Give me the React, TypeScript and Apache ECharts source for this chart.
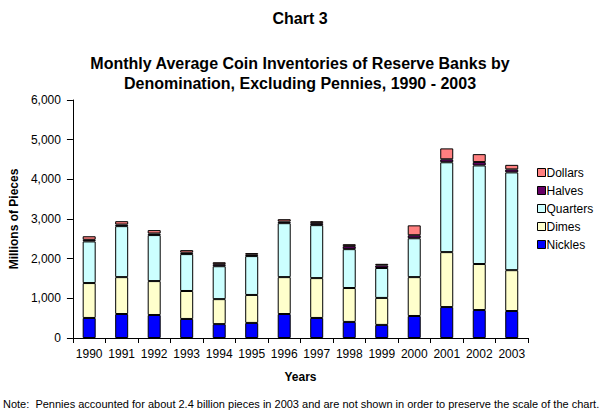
import React, { useEffect, useRef } from "react";
import * as echarts from "echarts";

const years = ["1990","1991","1992","1993","1994","1995","1996","1997","1998","1999","2000","2001","2002","2003"];
const nickles = [505, 605, 580, 480, 350, 380, 605, 505, 405, 330, 555, 780, 705, 680];
const dimes = [880, 930, 855, 705, 630, 705, 930, 1005, 855, 680, 980, 1385, 1160, 1030];
const quarters = [1050, 1285, 1160, 930, 830, 980, 1360, 1335, 980, 755, 980, 2265, 2485, 2465];
const halves = [40, 40, 40, 35, 50, 35, 40, 50, 75, 65, 75, 75, 85, 75];
const dollars = [90, 85, 85, 65, 50, 40, 60, 50, 50, 40, 250, 275, 200, 115];

const FONT = "'Liberation Sans', Arial, sans-serif";

export default function App() {
  const ref = useRef<HTMLDivElement>(null);
  useEffect(() => {
    if (!ref.current) return;
    const chart = echarts.init(ref.current, null, { renderer: "svg" });
    const mk = (name: string, data: number[], color: string) => ({
      name,
      type: "bar",
      stack: "coins",
      data,
      barWidth: 13,
      itemStyle: { color, borderColor: "#000", borderWidth: 1 },
    });
    chart.setOption({
      animation: false,
      backgroundColor: "#fff",
      textStyle: { fontFamily: FONT },
      title: [
        {
          text: "Chart 3",
          left: "center",
          top: 5,
          textStyle: { fontFamily: FONT, fontSize: 16, fontWeight: "bold", color: "#000" },
        },
        {
          text: "Monthly Average Coin Inventories of Reserve Banks by\nDenomination, Excluding Pennies, 1990 - 2003",
          left: "center",
          top: 48,
          textStyle: { fontFamily: FONT, fontSize: 16, fontWeight: "bold", color: "#000", lineHeight: 20 },
        },
      ],
      legend: {
        orient: "vertical",
        left: 532,
        top: 161,
        itemWidth: 8,
        itemHeight: 8,
        itemGap: 5,
        icon: "rect",
        data: ["Dollars", "Halves", "Quarters", "Dimes", "Nickles"],
        textStyle: { fontFamily: FONT, fontSize: 12, color: "#000", lineHeight: 13, padding: [0, 0, 0, -4] },
        itemStyle: { borderColor: "#000", borderWidth: 1 },
      },
      grid: { left: 66, right: 72, top: 100, height: 238 },
      xAxis: {
        type: "category",
        data: years,
        name: "Years",
        nameLocation: "middle",
        nameGap: 33,
        nameTextStyle: { fontFamily: FONT, fontSize: 12, fontWeight: "bold", color: "#000" },
        axisLine: { lineStyle: { color: "#000", width: 1 } },
        axisTick: { show: true, length: 5, lineStyle: { color: "#000" } },
        axisLabel: { interval: 0, fontFamily: FONT, fontSize: 12, color: "#000", margin: 10 },
        splitLine: { show: false },
      },
      yAxis: {
        type: "value",
        min: 0,
        max: 6000,
        interval: 1000,
        name: "Millions of Pieces",
        nameLocation: "middle",
        nameGap: 49,
        nameTextStyle: { fontFamily: FONT, fontSize: 12, fontWeight: "bold", color: "#000" },
        axisLine: { show: true, lineStyle: { color: "#000", width: 1 } },
        axisTick: { show: true, length: 6, lineStyle: { color: "#000" } },
        axisLabel: {
          fontFamily: FONT,
          fontSize: 12,
          color: "#000",
          margin: 12,
          formatter: (v: number) => v.toLocaleString("en-US"),
        },
        splitLine: { show: false },
      },
      graphic: [
        {
          type: "text",
          left: 3,
          top: 398,
          style: {
            text: "Note:  Pennies accounted for about 2.4 billion pieces in 2003 and are not shown in order to preserve the scale of the chart.",
            fontFamily: FONT,
            fontSize: 11,
            fill: "#000",
          },
        },
      ],
      series: [
        mk("Nickles", nickles, "#0000FF"),
        mk("Dimes", dimes, "#FFFFCC"),
        mk("Quarters", quarters, "#CCFFFF"),
        mk("Halves", halves, "#660066"),
        mk("Dollars", dollars, "#FF8080"),
      ],
    });
    return () => chart.dispose();
  }, []);
  return <div ref={ref} style={{ width: 600, height: 416, position: "absolute", left: 0, top: 0 }} />;
}
